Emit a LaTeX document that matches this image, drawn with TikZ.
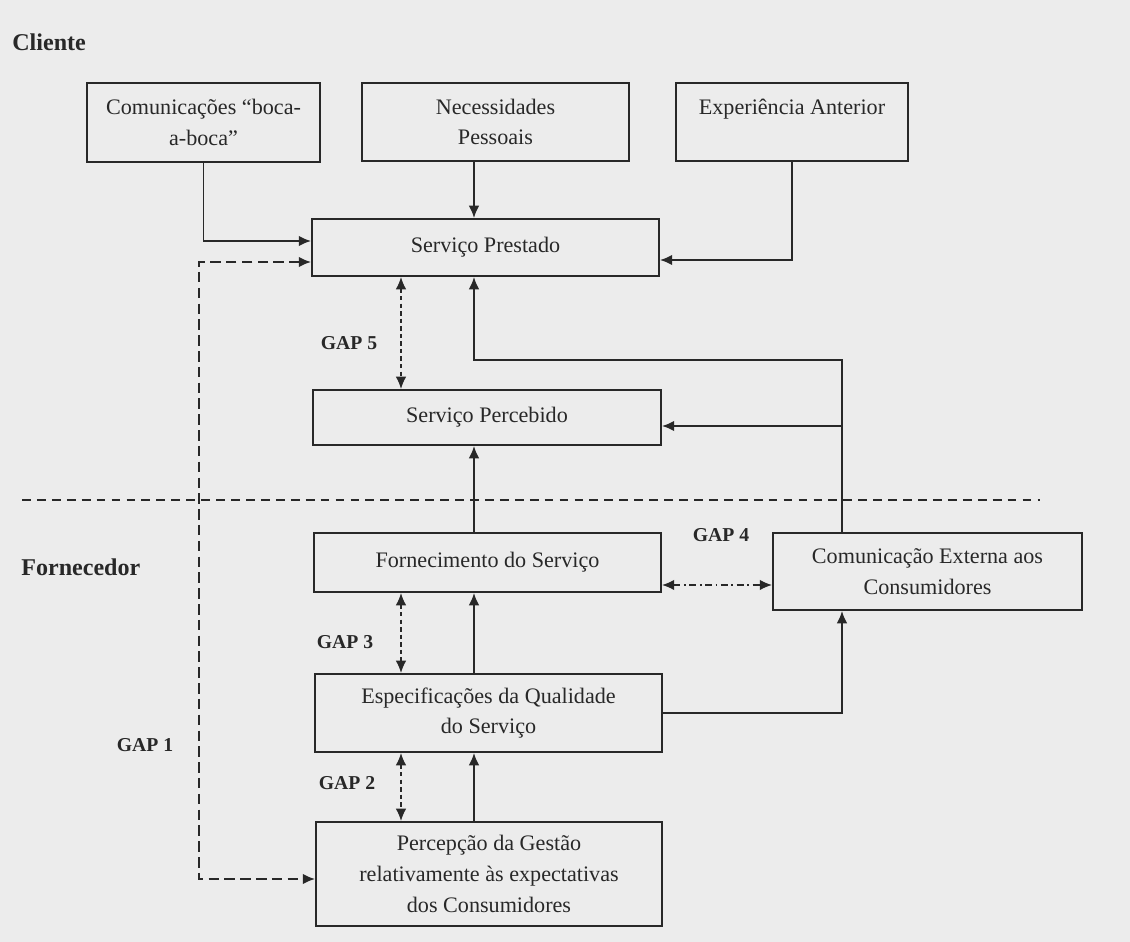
\documentclass[tikz,border=0pt]{standalone}
\usepackage{fontspec}
\setmainfont{Liberation Serif}
\usetikzlibrary{positioning,arrows.meta}
\definecolor{scanbg}{RGB}{236,236,236}
\definecolor{ink}{RGB}{40,40,40}

\begin{document}
\begin{tikzpicture}[x=0.02cm,y=-0.02cm,>={Latex[length=7pt,width=6pt]},
    box/.style={draw=ink,line width=1.1pt,align=center,inner sep=2pt,text=ink,font=\fontsize{12.6}{17.5}\selectfont},
    arr/.style={draw=ink,line width=1.1pt,->},
    gap/.style={draw=ink,line width=0.9pt,dash pattern=on 2.5pt off 1.8pt,<->},
    gapum/.style={draw=ink,line width=1.1pt,dash pattern=on 6pt off 3pt,<->},
    gapquatro/.style={draw=ink,line width=0.9pt,dash pattern=on 4pt off 2pt on 1pt off 2pt,<->},
    lbl/.style={text=ink,font=\bfseries\fontsize{11.2}{13}\selectfont},
    side/.style={text=ink,anchor=west,inner sep=0pt,font=\bfseries\fontsize{13.7}{16}\selectfont}]
                \fill[scanbg] (0,0) rectangle (1130,942);
                \node[side] (cliente) at (12,42) {Cliente};
                \node[side] (fornecedor) at (21,567) {Fornecedor};
                \node[box,minimum width=4.66cm,minimum height=1.58cm] (boca) at (203.5,122.5) {Comunicações “boca-\\a-boca”};
                \node[box,minimum width=5.34cm,minimum height=1.56cm] (pess) at (495.5,122) {Necessidades\\Pessoais};
                \node[box,minimum width=4.64cm,minimum height=1.56cm] (exper) at (792,122) {Experiência Anterior\\\mbox{}};
                \node[box,minimum width=6.94cm,minimum height=1.14cm] (prest) at (485.5,247.5) {Serviço Prestado};
                \node[box,minimum width=6.96cm,minimum height=1.1cm] (perceb) at (487,417.5) {Serviço Percebido};
                \node[box,minimum width=6.94cm,minimum height=1.18cm] (fornec) at (487.5,562.5) {Fornecimento do Serviço};
                \node[box,minimum width=6.18cm,minimum height=1.54cm] (extern) at (927.5,571.5) {Comunicação Externa aos\\Consumidores};
                \node[box,minimum width=6.94cm,minimum height=1.56cm] (espec) at (488.5,713) {Especificações da Qualidade\\do Serviço};
                \node[box,minimum width=6.92cm,minimum height=2.08cm] (gestao) at (489,874) {Percepção da Gestão\\relativamente às expectativas\\dos Consumidores};
                \node[lbl] (gapcinco) at (349,343) {GAP 5};
                \node[lbl] (gapquatrol) at (721,535) {GAP 4};
                \node[lbl] (gaptres) at (345,642) {GAP 3};
                \node[lbl] (gapdois) at (347,783) {GAP 2};
                \node[lbl] (gapuml) at (145,745) {GAP 1};
                \coordinate (solid) at (474,0);
                \coordinate (gapx) at (401,0);
                \coordinate (extx) at (842,0);
                \coordinate (gapumx) at (199,0);
                \coordinate (gumtopo) at ([yshift=-0.29cm]prest.west);
                \coordinate (gumbaixo) at ([yshift=-0.1cm]gestao.west);
                \coordinate (gquatro) at ([yshift=-0.45cm]fornec.east);
                \draw[ink,line width=1pt,dash pattern=on 5pt off 3.5pt] (22,500) -- (1040,500);
                \draw[arr] (boca.south) |- ([yshift=0.13cm]prest.west);
                \draw[arr] (pess.south -| solid) -- (prest.north -| solid);
                \draw[arr] (exper.south) |- ([yshift=-0.25cm]prest.east);
                \draw[arr] (extern.north -| extx) -- ++(0,-172) -| (prest.south -| solid);
                \draw[arr] (extern.north -| extx) |- ([yshift=-0.17cm]perceb.east);
                \draw[arr] (fornec.north -| solid) -- (perceb.south -| solid);
                \draw[arr] (espec.north -| solid) -- (fornec.south -| solid);
                \draw[arr] (gestao.north -| solid) -- (espec.south -| solid);
                \draw[arr] (espec.east) -| (extern.south -| extx);
                \draw[gap] (prest.south -| gapx) -- (perceb.north -| gapx);
                \draw[gap] (fornec.south -| gapx) -- (espec.north -| gapx);
                \draw[gap] (espec.south -| gapx) -- (gestao.north -| gapx);
                \draw[gapquatro] (gquatro) -- (gquatro -| extern.west);
                \draw[gapum] (gumtopo) -| (gapumx |- gumbaixo) -- (gumbaixo);
\end{tikzpicture}
\end{document}
